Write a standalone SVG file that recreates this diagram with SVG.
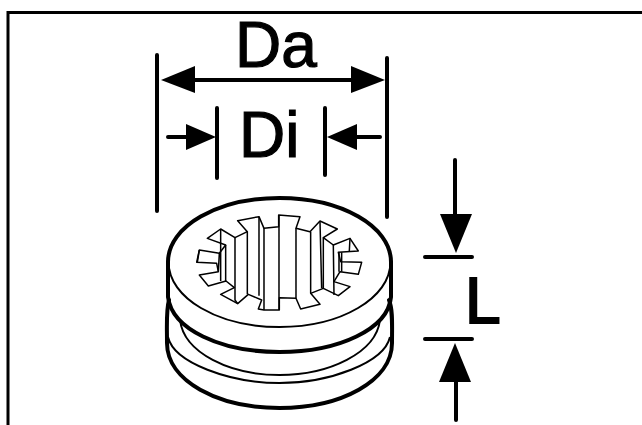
<svg xmlns="http://www.w3.org/2000/svg" width="642" height="425" viewBox="0 0 642 425">
<style>
.t{font-family:"Liberation Sans",Arial,sans-serif;font-size:64px;fill:#000;stroke:#000;stroke-width:1.200}
.thick{fill:none;stroke:#000;stroke-width:4;stroke-linecap:round}
.thin{fill:none;stroke:#000;stroke-width:2}
.teeth{fill:none;stroke:#000;stroke-width:4.500;stroke-linejoin:round}
.ah{fill:#000}
</style>
<rect width="642" height="425" fill="#fff"/>
<path id="frame" d="M8 425V12.500H642" fill="none" stroke="#000" stroke-width="3"/>
<g id="part">
<ellipse cx="279.500" cy="262.500" rx="111" ry="64.500" fill="#fff" stroke="none"/>
<path class="thick" d="M168 262C168 226 218 198 279.500 198C341 198 391 226 391 262"/>
<path class="thin" d="M168.500 262C168.500 298 218 327 279.500 327C341 327 390.500 298 390.500 262"/>
<path class="thick" d="M168 262V297C172 329 220 352 279.500 352C339 352 388 329 391 297V262"/>
<path class="thick" d="M169 300C166 310 167 325 167 343C167 381 218 408 279.500 408C341 408 392 381 392 343C392 325 393 310 389 300"/>
<path class="thin" d="M180 320C184 353 230 375 279.500 375C329 375 376 353 380 320"/>
<path class="thin" d="M168 337C174 363 230 383 279.500 383C329 383 384 363 390 337"/>
<g transform="translate(190 205) scale(.3333)">
<path class="teeth" fill="#fff" d="M222 70L266 65L266 30L330 35L318 70L360 80L390 48L442 72L400 98L430 120L480 100L505 138L445 142L452 170L515 172L505 208L450 200L432 230L480 245L445 272L400 250L362 265L390 298L332 312L318 280L268 278L268 315L222 315L205 312L215 285L175 268L143 296L92 268L133 248L108 228L55 243L28 210L85 200L80 175L20 172L28 135L88 145L107 120L52 100L92 72L135 98L172 80L143 47L207 35Z"/>
<path class="teeth" d="M172 80V268M207 35V272M222 70V315M267 30V315M135 98V285L143 296M92 72V228M107 120V230M318 70V280M362 80V265M390 48L395 250M400 98V250M430 120L432 270M480 100L478 138M447 142V200M455 142V200M88 145L85 200M28 135L22 172"/>
</g>
</g>
<g id="connectors">
<g class="thick">
<path d="M157 55V211M387 58V217M217 108V178M325 108V175M425 257H472M425 339H472"/>
<path d="M195 80H355M168 137H200M380 137H345M455 160V215M456 380V420"/>
</g>
<g class="ah">
<path d="M161 80L195 66V93Z"/>
<path d="M385 80L351 66V93Z"/>
<path d="M216 137L186 124V150Z"/>
<path d="M327 137L357 124V150Z"/>
<path d="M456 253L440 214H472Z"/>
<path d="M455 343L439 382H471Z"/>
</g>
</g>
<g id="labels">
<text class="t" x="235" y="67">Da</text>
<text class="t" x="239" y="157">Di</text>
<text class="t" x="465" y="323" style="stroke-width:2">L</text>
</g>
</svg>
